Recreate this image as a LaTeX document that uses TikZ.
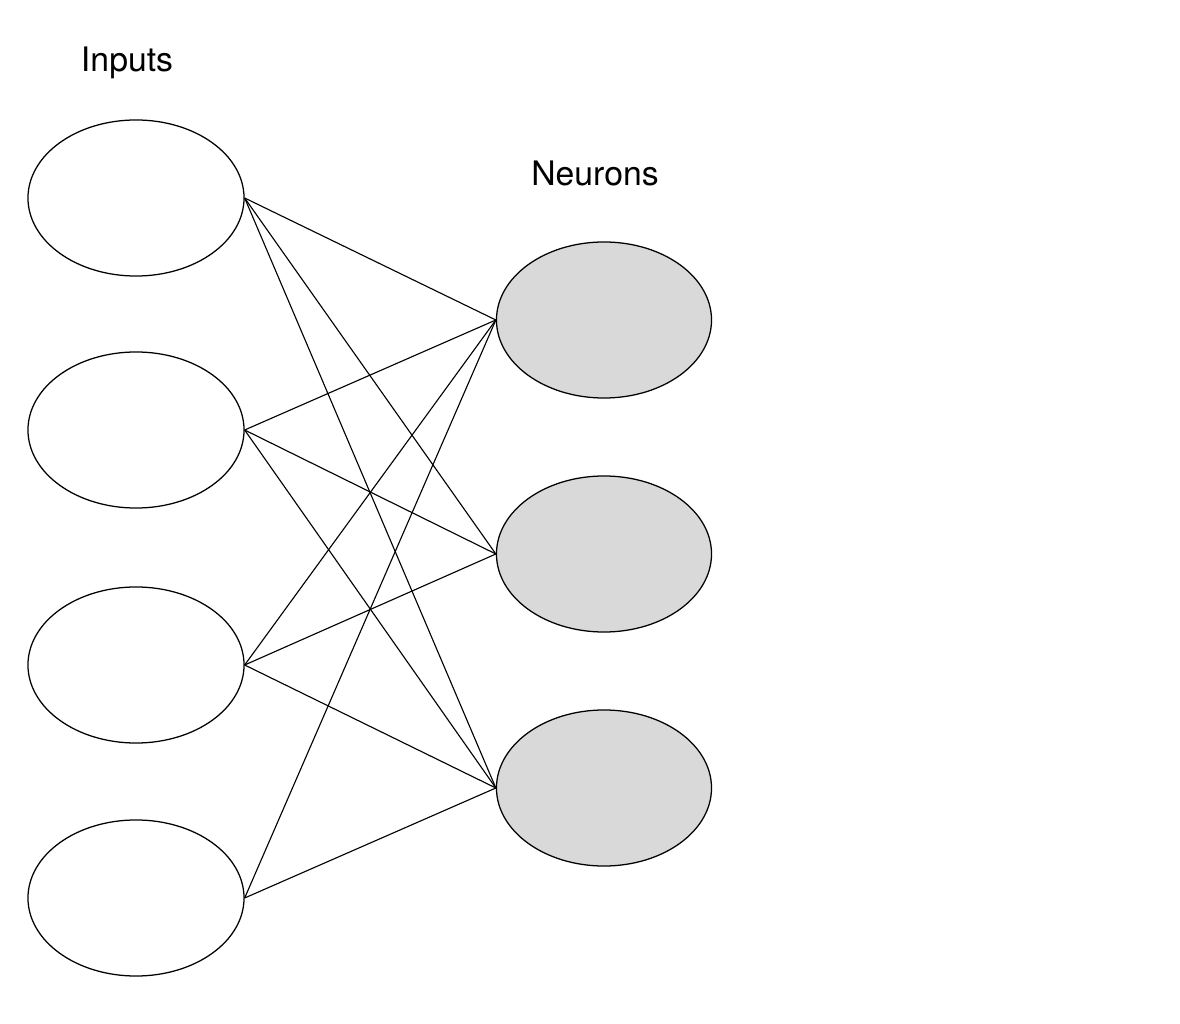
\documentclass[tikz,border=0pt]{standalone}
\usepackage{fontspec}
\setmainfont{TeX Gyre Heros}
\usetikzlibrary{shapes.geometric}
\definecolor{neuronfill}{RGB}{217,217,217}

\begin{document}
\begin{tikzpicture}[
    x=0.025cm, y=-0.025cm,
    every node/.style={font=\fontsize{24}{28}\selectfont},
    input/.style={ellipse, draw=black, line width=0.9pt, fill=white,
      minimum width=5.4cm, minimum height=3.9cm, inner sep=0pt},
    neuron/.style={ellipse, draw=black, line width=0.9pt, fill=neuronfill,
      minimum width=5.375cm, minimum height=3.9cm, inner sep=0pt},
    link/.style={line width=0.8pt, black},
  ]

  % Canvas: 1180 x 1024 px, origin top left
  \useasboundingbox[fill=white] (0,0) rectangle (1180,1024);

  % --- Headings ---
  \node (inputs label) at (127,63) {Inputs};
  \node (neurons label) at (595,173) {Neurons};

  % --- Input layer ---
  \node[input] (in1) at (136,198) {};
  \node[input] (in2) at (136,430) {};
  \node[input] (in3) at (136,665) {};
  \node[input] (in4) at (136,898) {};

  % --- Neuron layer ---
  \node[neuron] (nr1) at (604,320) {};
  \node[neuron] (nr2) at (604,554) {};
  \node[neuron] (nr3) at (604,788) {};

  % --- Connections ---
  % from input 1
  \draw[link] (in1.east) -- (nr1.west);
  \draw[link] (in1.east) -- (nr2.west);
  \draw[link] (in1.east) -- (nr3.west);
  % from input 2
  \draw[link] (in2.east) -- (nr1.west);
  \draw[link] (in2.east) -- (nr2.west);
  \draw[link] (in2.east) -- (nr3.west);
  % from input 3
  \draw[link] (in3.east) -- (nr1.west);
  \draw[link] (in3.east) -- (nr2.west);
  \draw[link] (in3.east) -- (nr3.west);
  % from input 4
  \draw[link] (in4.east) -- (nr1.west);
  \draw[link] (in4.east) -- (nr3.west);

\end{tikzpicture}
\end{document}
